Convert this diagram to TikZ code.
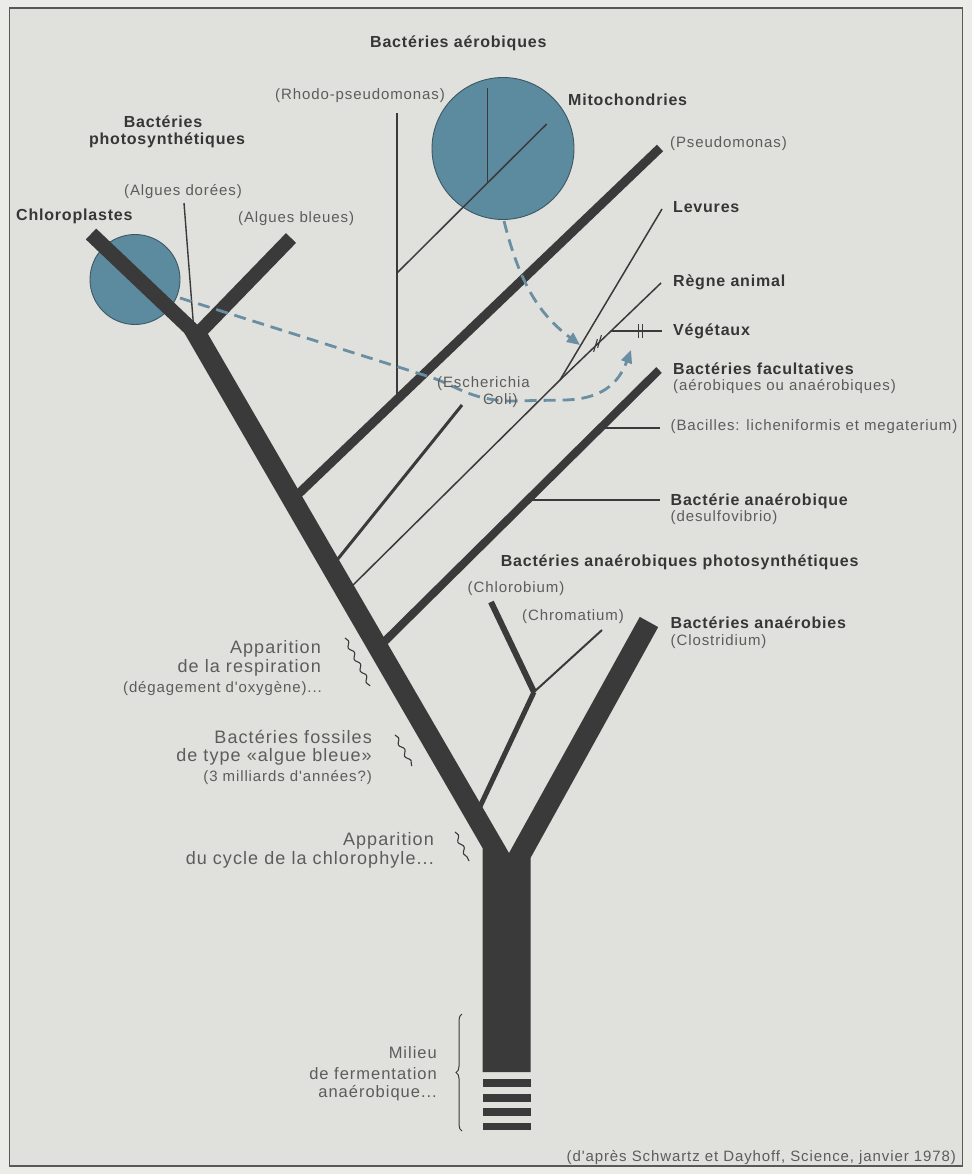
\documentclass[tikz,border=0pt]{standalone}
\usepackage{fontspec}
\setmainfont{Liberation Sans}
\newfontfamily\lblfont[LetterSpace=5]{Liberation Sans}
\newfontfamily\smfont[LetterSpace=6]{Liberation Sans}
\usetikzlibrary{arrows.meta,decorations.pathmorphing,decorations.pathreplacing}
\definecolor{bgin}{HTML}{E0E1DC}
\definecolor{bgout}{HTML}{EBEBE7}
\definecolor{ink}{HTML}{3A3A3A}
\definecolor{txt}{HTML}{363636}
\definecolor{txtl}{HTML}{5C5C5C}
\definecolor{cell}{HTML}{5C8A9E}
\definecolor{celledge}{HTML}{3C5864}
\definecolor{dashc}{HTML}{6A8EA2}
\tikzset{
  lbl/.style={font=\lblfont\bfseries\fontsize{16}{18}\selectfont, text=txt, inner sep=0pt, anchor=base west},
  sml/.style={font=\smfont\fontsize{15}{17}\selectfont, text=txtl, inner sep=0pt, anchor=base west},
  lft/.style={font=\smfont\fontsize{18}{20}\selectfont, text=txtl, inner sep=0pt, anchor=base east},
  lfs/.style={font=\smfont\fontsize{15}{17}\selectfont, text=txtl, inner sep=0pt, anchor=base east},
  mil/.style={font=\smfont\fontsize{16.5}{18}\selectfont, text=txtl, inner sep=0pt, anchor=base east},
  br/.style={draw=ink, line cap=butt},
  cellc/.style={fill=cell, draw=celledge, line width=0.9pt},
  wig/.style={draw=ink, line width=1.1pt, decorate, decoration={snake, segment length=13pt, amplitude=1.8pt}},
  dsh/.style={draw=dashc, line width=2.8pt, dash pattern=on 12pt off 7pt, -{Triangle[length=13pt,width=11pt]}},
}
\begin{document}
\begin{tikzpicture}[x=1pt,y=-1pt]
\useasboundingbox (0,0) rectangle (972,1174);
\fill[bgout] (0,0) rectangle (972,1174);
\draw[fill=bgin, draw=ink!85, line width=1.6pt] (9.5,8) rectangle (962.5,1166);

% --- coordinates ---
\coordinate (LBtopL) at (182.6,330);
\coordinate (LBtrunk) at (482.5,848);
\coordinate (TrBL) at (482.5,1072);
\coordinate (TrBR) at (530.5,1072);
\coordinate (RBtrunk) at (530.5,858);
\coordinate (RBtopR) at (658.2,627.1);
\coordinate (RBtopL) at (639.8,616.9);
\coordinate (Apex) at (509,853);
\coordinate (LBtopR) at (205.6,330);

\coordinate (ChloEnd) at (91,234);
\coordinate (ChloBase) at (203.4,340.8);
\coordinate (BleEnd) at (291,238);
\coordinate (BleBase) at (193.6,338.5);
\coordinate (DorTop) at (184,203);
\coordinate (DorBase) at (194,332);

\coordinate (PseBase) at (292,500);
\coordinate (PseEnd) at (660,148);
\coordinate (RhoTop) at (397,113);
\coordinate (RhoBase) at (397,400);
\coordinate (RhoFork) at (397,273);
\coordinate (MitEnd) at (546.7,124);
\coordinate (MitFork) at (487.7,182.3);
\coordinate (MitTop) at (487.7,88);

\coordinate (EscBase) at (329,570);
\coordinate (EscEnd) at (462,405);
\coordinate (LevBase) at (343,595);
\coordinate (LevFork) at (560,380);
\coordinate (LevEnd) at (662,209);
\coordinate (RegEnd) at (661,283);
\coordinate (VegBase) at (611,331);
\coordinate (VegEnd) at (662,331);

\coordinate (FacBase) at (378,648);
\coordinate (FacEnd) at (659,370);
\coordinate (BacBase) at (600,428);
\coordinate (BacEnd) at (660,428);
\coordinate (AnaBase) at (527,500);
\coordinate (AnaEnd) at (660,500);

\coordinate (PhoBase) at (476,815);
\coordinate (PhoFork) at (534,692);
\coordinate (ChbEnd) at (491,602);
\coordinate (ChrEnd) at (602,630);

% --- cells (behind) ---
\path[cellc] (503,148.5) circle (71);

% --- main Y trunk ---
\fill[ink] (LBtopL) -- (LBtrunk) -- (TrBL) -- (TrBR) -- (RBtrunk) -- (RBtopR) -- (RBtopL) -- (Apex) -- (LBtopR) -- cycle;
\foreach \ya/\yb in {1079/1087, 1094/1101.5, 1108/1115.5, 1122.5/1130}
  \fill[ink] (482.5,\ya) rectangle (530.5,\yb);

\path[cellc] (135,279.5) circle (45);
\draw[br, line width=15pt] (ChloEnd) -- (ChloBase);
\draw[br, line width=14pt] (BleEnd) -- (BleBase);
\draw[br, line width=1.4pt] (DorTop) -- (DorBase);

% --- aerobic branches ---
\draw[br, line width=9pt] (PseBase) -- (PseEnd);
\draw[br, line width=1.5pt] (RhoTop) -- (RhoBase);
\draw[br, line width=1.5pt] (RhoFork) -- (MitEnd);
\draw[br, line width=1.5pt] (MitTop) -- (MitFork);
\draw[br, line width=3pt] (EscBase) -- (EscEnd);
\draw[br, line width=1.5pt] (LevBase) -- (LevFork) -- (LevEnd);
\draw[br, line width=1.5pt] (LevFork) -- (RegEnd);
\draw[br, line width=2.2pt] (VegBase) -- (VegEnd);
% interruption marks
\draw[ink, line width=1.1pt] (593.6,351.8) -- (597.4,339.2) (597.6,347.8) -- (601.4,335.2);
\draw[ink, line width=1.1pt] (638.5,324) -- (638.5,338) (642.5,324) -- (642.5,338);

% --- facultative / anaerobic ---
\draw[br, line width=8pt] (FacBase) -- (FacEnd);
\draw[br, line width=2.4pt] (BacBase) -- (BacEnd);
\draw[br, line width=2.4pt] (AnaBase) -- (AnaEnd);
\draw[br, line width=5pt] (PhoBase) -- (PhoFork);
\draw[br, line width=6pt] (PhoFork) -- (ChbEnd);
\draw[br, line width=2pt] (PhoFork) -- (ChrEnd);

% --- squiggles and brace ---
\draw[wig] (345,638) -- (370,686);
\draw[wig] (395,735) -- (412,766);
\draw[wig] (455,832) -- (469,861);
\draw[ink, line width=1pt, decorate, decoration={brace, amplitude=6pt}] (462,1131) -- (462,1014);

% --- texts ---
\node[lbl] (nAer) at (370,48) {Bactéries aérobiques};
\node[lbl, anchor=base] (nPhot1) at (163,128) {Bactéries};
\node[lbl, anchor=base] (nPhot2) at (167,145) {photosynthétiques};
\node[lbl] (nChlo) at (16,221) {Chloroplastes};
\node[lbl] (nMito) at (568,106) {Mitochondries};
\node[lbl] (nLev) at (673,213) {Levures};
\node[lbl] (nRegne) at (673,286) {Règne animal};
\node[lbl] (nVeg) at (673,335) {Végétaux};
\node[lbl] (nFac) at (673,374) {Bactéries facultatives};
\node[lbl] (nAnae) at (670.5,505) {Bactérie anaérobique};
\node[lbl] (nPhAn) at (500.6,566) {Bactéries anaérobiques photosynthétiques};
\node[lbl] (nClos) at (670.5,628) {Bactéries anaérobies};

\node[sml] (nRhodo) at (275,100) {(Rhodo-pseudomonas)};
\node[sml] (nDor) at (124,196) {(Algues dorées)};
\node[sml] (nBle) at (238,223) {(Algues bleues)};
\node[sml] (nPseu) at (670,148) {(Pseudomonas)};
\node[sml] (nFacS) at (673,390) {(aérobiques ou anaérobiques)};
\node[sml] (nBac) at (670.5,430) {(Bacilles: licheniformis et megaterium)};
\node[sml] (nDes) at (670.5,521) {(desulfovibrio)};
\node[sml] (nChlb) at (467.5,592) {(Chlorobium)};
\node[sml] (nChro) at (522,620) {(Chromatium)};
\node[sml] (nClosS) at (670.5,645) {(Clostridium)};

\node[lft] (nApp1) at (321,653) {Apparition};
\node[lft] (nApp2) at (321,672) {de la respiration};
\node[lfs] (nApp3) at (322,692) {(dégagement d'oxygène)...};
\node[lft] (nFos1) at (372,743) {Bactéries fossiles};
\node[lft] (nFos2) at (372,761) {de type «algue bleue»};
\node[lfs] (nFos3) at (372,781) {(3 milliards d'années?)};
\node[lft] (nCyc1) at (434,845) {Apparition};
\node[lft] (nCyc2) at (434,864) {du cycle de la chlorophyle...};
\node[mil] (nMil1) at (437,1058) {Milieu};
\node[mil] (nMil2) at (437,1079) {de fermentation};
\node[mil] (nMil3) at (437,1097) {anaérobique...};
\node[lfs] (nCap) at (956,1161) {(d'après Schwartz et Dayhoff, Science, janvier 1978)};

% --- transfer arrows (dashed) ---
\draw[dsh] (180,298) -- (430,377) .. controls (455,385) and (470,400) .. (510,401) -- (565,400) .. controls (600,399) and (618,385) .. (631,350);
\node[sml] (nEsc1) at (437,387) {(Escherichia};
\node[sml] (nEsc2) at (483,404) {Coli)};
\draw[dsh] (504,221) .. controls (520,285) and (540,315) .. (580,345);
\end{tikzpicture}
\end{document}
